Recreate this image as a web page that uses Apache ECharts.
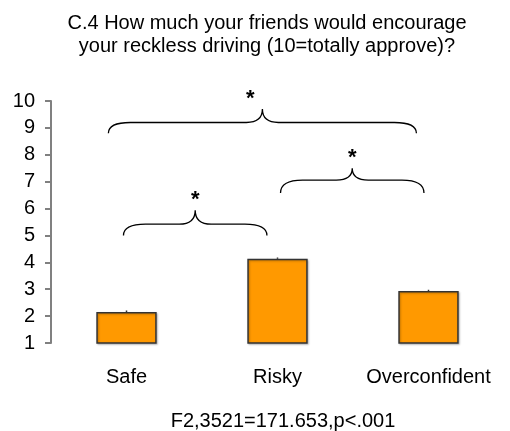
<!DOCTYPE html>
<html>
<head>
<meta charset="utf-8">
<script src="https://cdn.jsdelivr.net/npm/echarts@6/dist/echarts.min.js"></script>
<style>
  html, body { margin: 0; padding: 0; background: #fff; }
  #chart { width: 510px; height: 431px; }
</style>
</head>
<body>
<div id="chart"></div>
<script>
// 数据
const categories = ["Safe", "Risky", "Overconfident"];
const means = [2.15, 4.13, 2.93];
const errors = [0.06, 0.05, 0.05];
const yTicks = [1, 2, 3, 4, 5, 6, 7, 8, 9, 10];
// 显著性括号: [起始类别位置, 结束类别位置, 端点y, 横线y, 尖端y]
const braceFrom = [-0.02, 1.02, -0.12];
const braceTo = [0.93, 1.97, 1.92];
const braceEnd = [5.0, 6.58, 8.8];
const braceMid = [5.42, 7.06, 9.2];
const braceTip = [5.94, 7.5, 9.7];
const braceLabel = ["*", "*", "*"];

const font = "Liberation Sans, Arial, sans-serif";
const starShift = [0, 0, -12]; // 星号水平偏移(px)
const chart = echarts.init(document.getElementById("chart"));

const braceData = braceFrom.map((f, i) => [f, braceTo[i], braceEnd[i], braceMid[i], braceTip[i]]);

function px(api, pos, y) {
  // 类别轴上的分数位置 -> 像素
  const a = api.coord([0, y]);
  const b = api.coord([1, y]);
  return [a[0] + (b[0] - a[0]) * pos, a[1]];
}

const options = {
  animation: false,
  title: [
    {
      text: "C.4 How much your friends would encourage\nyour reckless driving (10=totally approve)?",
      left: 262,
      top: 7,
      textAlign: "center",
      textStyle: { fontFamily: font, fontSize: 20, fontWeight: "normal", color: "#000", lineHeight: 23 },
    },
    {
      text: "F2,3521=171.653,p<.001",
      left: 278,
      top: 406,
      textAlign: "center",
      textStyle: { fontFamily: font, fontSize: 20, fontWeight: "normal", color: "#000" },
    },
  ],
  grid: { left: 51, right: 6, top: 101, bottom: 88 },
  xAxis: {
    type: "category",
    data: categories,
    axisLine: { show: false },
    axisTick: { show: false },
    axisLabel: { interval: 0, fontFamily: font, fontSize: 20, color: "#000", margin: 24 },
  },
  yAxis: {
    type: "value",
    min: yTicks[0],
    max: yTicks[yTicks.length - 1],
    interval: 1,
    splitLine: { show: false },
    axisLine: { show: true, lineStyle: { color: "#808080", width: 2 } },
    axisTick: { show: true, length: 6, lineStyle: { color: "#808080", width: 2 } },
    axisLabel: { fontFamily: font, fontSize: 20, color: "#000", margin: 16 },
  },
  series: [
    {
      type: "bar",
      data: means,
      barWidth: "40%",
      itemStyle: {
        color: "#FF9900",
        borderColor: "#333",
        borderWidth: 1.5,
        shadowColor: "rgba(0,0,0,.25)",
        shadowBlur: 2,
        shadowOffsetX: 1,
        shadowOffsetY: 1,
      },
      z: 2,
    },
    {
      type: "custom",
      data: means.map((m, i) => [i, m, errors[i]]),
      renderItem: (params, api) => {
        const p0 = api.coord([api.value(0), api.value(1)]);
        const p1 = api.coord([api.value(0), api.value(1) + api.value(2)]);
        return {
          type: "line",
          shape: { x1: p0[0], y1: p0[1], x2: p1[0], y2: p1[1] },
          style: { stroke: "#333", lineWidth: 1.5 },
        };
      },
      z: 3,
    },
    {
      type: "custom",
      data: braceData,
      renderItem: (params, api) => {
        const f = api.value(0), t = api.value(1);
        const [x0, yE] = px(api, f, api.value(2));
        const [x1] = px(api, t, api.value(2));
        const yH = api.coord([0, api.value(3)])[1];
        const yT = api.coord([0, api.value(4)])[1];
        const xm = (x0 + x1) / 2;
        const r = 22, r2 = 16;
        const path =
          `M${x0},${yE} Q${x0},${yH} ${x0 + r},${yH} L${xm - r2},${yH} Q${xm},${yH} ${xm},${yT} ` +
          `Q${xm},${yH} ${xm + r2},${yH} L${x1 - r},${yH} Q${x1},${yH} ${x1},${yE}`;
        return {
          type: "group",
          children: [
            {
              type: "path",
              shape: { pathData: path },
              style: { fill: "none", stroke: "#000", lineWidth: 1.3 },
            },
            {
              type: "text",
              style: {
                text: braceLabel[params.dataIndex],
                x: xm + starShift[params.dataIndex],
                y: yT + 1,
                align: "center",
                verticalAlign: "bottom",
                fontFamily: font,
                fontSize: 22,
                fontWeight: "bold",
                fill: "#000",
              },
            },
          ],
        };
      },
      z: 4,
    },
  ],
};

chart.setOption(options);
</script>
</body>
</html>
